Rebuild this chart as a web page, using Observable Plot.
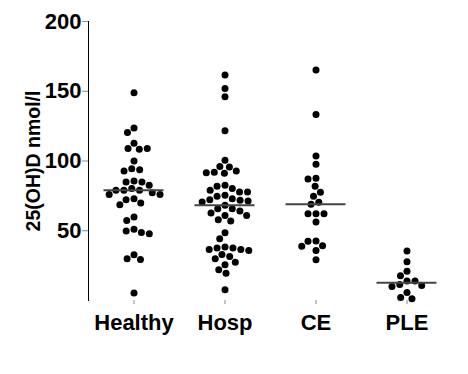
<!DOCTYPE html>
<html><head><meta charset="utf-8">
<script src="https://cdn.jsdelivr.net/npm/d3@7"></script>
<script src="https://cdn.jsdelivr.net/npm/@observablehq/plot@0.6"></script>
<style>
body{margin:0;background:#fff;}
#chart svg text{fill:#000;}
#chart svg [aria-label="y-axis label"] text{font-size:19.5px;}
#chart svg [aria-label*="axis"] line, #chart svg [aria-label*="axis"] path{stroke:#8a8a8a;}
</style></head><body><div id="chart"></div>
<script>
const groups = ["Healthy", "Hosp", "CE", "PLE"];
const yTicks = [50, 100, 150, 200];
const healthy = [148.9, 123.7, 120.4, 112.7, 108.9, 108.4, 108.9, 100, 94.5, 93.8, 92.9,
  85.7, 85, 85, 82.6, 80.2, 79, 79, 79, 77.3, 75.9, 75.9, 73, 72.3, 69.9, 68.7,
  59.8, 57.4, 51, 49.8, 48.8, 47.9, 32.8, 29.9, 29.4, 5.3];
const hosp = [161.6, 152, 146, 121.6, 100.5, 96.1, 95.7, 92.8, 92, 91.6, 91.2,
  82.6, 81.9, 80.2, 79, 77.8, 77.8, 75.4, 74.7, 73, 72.3, 71.8, 71.3, 70.6, 68.2,
  65.8, 65.8, 64.1, 62.7, 61, 61, 57.9, 57, 48.6, 44.3, 38.3, 37.6, 37.6, 36.6, 36.6,
  35.9, 33, 31.6, 29.9, 27.5, 25.6, 22, 19.6, 7.7];
const ce = [165.2, 133.4, 103.6, 97.7, 87.6, 87.1, 81.9, 77.6, 74.7, 70.4, 69,
  62.2, 62.2, 62.2, 56.3, 42.6, 42.4, 39.3, 38.8, 35.9, 29.2];
const ple = [35.4, 27.8, 21, 17.7, 13.9, 13.9, 11.5, 10.8, 10.1, 5.7, 2.2, 1.2];

const series = {Healthy: healthy, Hosp: hosp, CE: ce, PLE: ple};
const data = groups.flatMap(g => series[g].map(v => ({group: g, value: v})));

const chart = Plot.plot({
  width: 468, height: 374,
  marginLeft: 88, marginRight: 16, marginTop: 21, marginBottom: 74,
  style: {fontFamily: "'Liberation Sans', Arial, sans-serif", fontSize: "22px", fontWeight: "bold", background: "#fff", overflow: "visible"},
  fx: {domain: groups, padding: 0, label: null, axis: "bottom", tickSize: 4, tickPadding: 10, line: true},
  y: {domain: [0, 200], ticks: yTicks, tickSize: 6, tickPadding: 1, line: true,
      label: "25(OH)D nmol/l", labelArrow: false, labelAnchor: "center", labelOffset: 62},
  marks: [
    Plot.dot(data, Plot.dodgeX({anchor: "middle", padding: 1}, {fx: "group", y: "value", r: 3.5, fill: "#000"})),
    Plot.tickY(data, Plot.groupZ({y: "median"}, {fx: "group", y: "value", stroke: "#444", strokeWidth: 2, insetLeft: 15.5, insetRight: 15.5}))
  ]
});
document.getElementById("chart").appendChild(chart);
</script></body></html>
